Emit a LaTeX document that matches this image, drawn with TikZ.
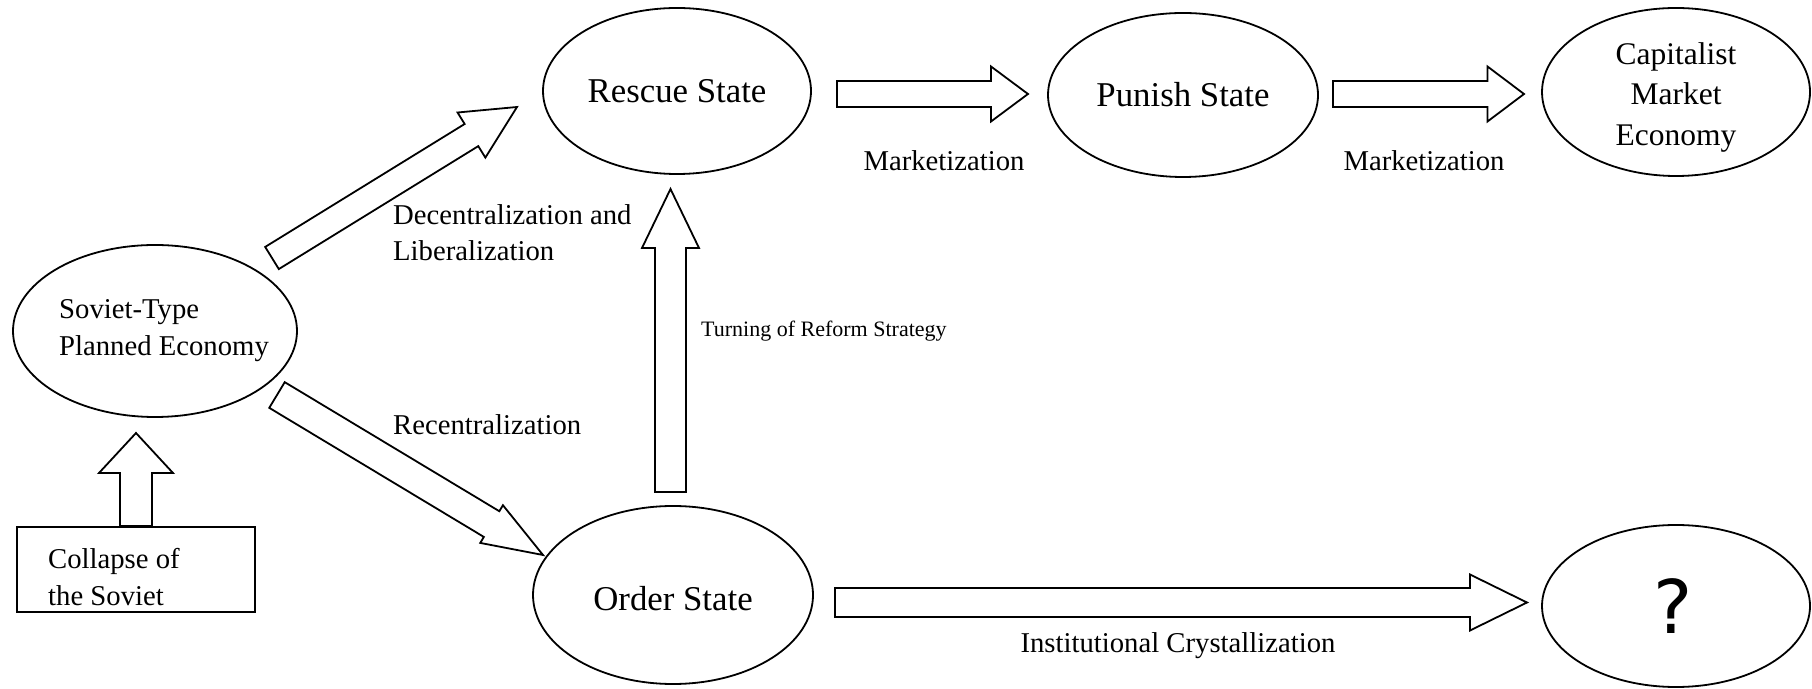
\documentclass[tikz,border=0pt]{standalone}
\usepackage{fontspec}
\setmainfont{Liberation Serif}
\newfontfamily\qfont{DejaVu Sans}
\usetikzlibrary{shapes.geometric,calc}
\tikzset{
  ell/.style={draw, ellipse, line width=1.8pt, inner sep=0pt, align=center},
  blk/.style={draw, line width=1.8pt, line join=miter, fill=white},
  lbl/.style={font=\fontsize{28.7}{35}\selectfont, inner sep=0pt},
  big/.style={font=\fontsize{34.8}{40}\selectfont},
}
% #1 tail, #2 tip, #3 half body width, #4 half head width, #5 head length
\newcommand\blockarrow[5]{%
  \coordinate (bah) at ($(#2)!#5!(#1)$);
  \draw[blk] ($(#1)!#3!90:(#2)$) -- ($(bah)!#3!90:(#2)$) -- ($(bah)!#4!90:(#2)$) -- (#2)
    -- ($(bah)!#4!-90:(#2)$) -- ($(bah)!#3!-90:(#2)$) -- ($(#1)!#3!-90:(#2)$) -- cycle;
}
\begin{document}
\begin{tikzpicture}[x=1pt,y=1pt]
\useasboundingbox (0,0) rectangle (1812,688);
% ellipses
\node[ell, minimum width=284pt, minimum height=172pt] (soviet) at (155,357) {};
\node[ell, big, minimum width=268pt, minimum height=166pt] (rescue) at (677,597) {Rescue State};
\node[ell, big, minimum width=270pt, minimum height=164pt] (punish) at (1183,593) {Punish State};
\node[ell, minimum width=268pt, minimum height=168pt] (capital) at (1676,596) {};
\node[font=\fontsize{31.5}{40.5}\selectfont, align=center, inner sep=0pt] (capt) at (1676,591) {Capitalist\\Market\\Economy};
\node[ell, minimum width=280pt, minimum height=178pt] (order) at (673,93) {};
\node[big, inner sep=0pt] (ordert) at (673,89.5) {Order State};
\node[ell, minimum width=268pt, minimum height=162pt] (unknown) at (1676,82) {};
\node[font=\qfont\fontsize{74}{80}\selectfont, inner sep=0pt, anchor=base] (qmark) at (1673,55) {?};
% box
\node[draw, line width=1.8pt, minimum width=238pt, minimum height=85pt, inner sep=0pt] (collapse) at (136,118.5) {};
\node[lbl, anchor=base west] (col1) at (48,119) {Collapse of};
\node[lbl, anchor=base west] (col2) at (48,82) {the Soviet};
% soviet text
\node[lbl, anchor=base west] (sov1) at (59,369.5) {Soviet-Type};
\node[lbl, anchor=base west] (sov2) at (59,332.5) {Planned Economy};
% arrow end points
\coordinate (ctip) at (136,255);
\coordinate (a1t) at (272,430);  \coordinate (a1h) at (517,581);
\coordinate (a2t) at (277,293);  \coordinate (a2h) at (543,133);
\coordinate (a3t) at (670.5,196); \coordinate (a3h) at (670.5,499);
\coordinate (a4t) at (837,594);  \coordinate (a4h) at (1028,594);
\coordinate (a5t) at (1333,594); \coordinate (a5h) at (1524,594);
\coordinate (a6t) at (835,85.5); \coordinate (a6h) at (1527,85.5);
\blockarrow{collapse.north}{ctip}{16pt}{37pt}{40pt}
\blockarrow{a1t}{a1h}{13pt}{26.5pt}{53.5pt}
\blockarrow{a2t}{a2h}{15pt}{22pt}{60pt}
\blockarrow{a3t}{a3h}{15.5pt}{28.5pt}{59pt}
\blockarrow{a4t}{a4h}{13pt}{27.5pt}{37pt}
\blockarrow{a5t}{a5h}{13pt}{27.5pt}{36.5pt}
\blockarrow{a6t}{a6h}{14.5pt}{28pt}{57pt}
% labels
\node[lbl, anchor=base west] (dec1) at (393,463) {Decentralization and};
\node[lbl, anchor=base west] (dec2) at (393,427.5) {Liberalization};
\node[lbl, anchor=base west] (rec) at (393,253.5) {Recentralization};
\node[lbl, anchor=base] (mk1) at (944,517.5) {Marketization};
\node[lbl, anchor=base] (mk2) at (1424,517.5) {Marketization};
\node[font=\fontsize{22}{26}\selectfont, inner sep=0pt, anchor=base west] (turn) at (701,351) {Turning of Reform Strategy};
\node[lbl, anchor=base] (inst) at (1178,35.5) {Institutional Crystallization};
\end{tikzpicture}
\end{document}
